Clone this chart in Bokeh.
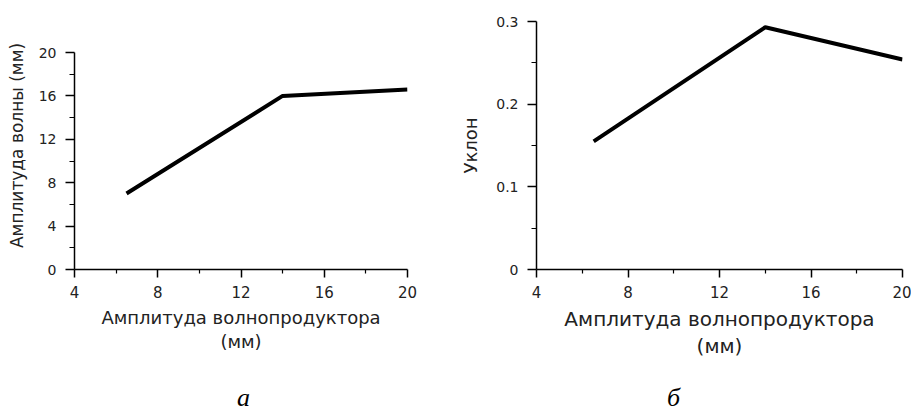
from bokeh.plotting import figure
from bokeh.layouts import row, column
from bokeh.models import Range1d, FixedTicker
from bokeh.core.properties import value
from bokeh.embed import file_html
from bokeh.resources import INLINE

# ---- data ----
amp_x = [6.5, 14, 20]
wave_amp = [7.0, 16.0, 16.6]
slope_x = [6.5, 14, 20]
slope = [0.155, 0.293, 0.254]

x_ticks = [4, 8, 12, 16, 20]
x_minor = [6, 10, 14, 18]
left_y_ticks = [0, 4, 8, 12, 16, 20]
left_y_minor = [2, 6, 10, 14, 18]
right_y_ticks = [0, 0.1, 0.2, 0.3]
right_y_minor = [0.05, 0.15, 0.25]

x_title = "Амплитуда волнопродуктора\n(мм)"
left_y_title = "Амплитуда волны (мм)"
right_y_title = "Уклон"
panel_letters = ["а", "б"]

FONT = "DejaVu Sans"
TXT = "#222222"
TOP_H = 371
BOT_H = 40
W1, W2 = 455, 456


def style(p, yticks, yminor, ysize, xsize):
    p.outline_line_color = None
    p.xgrid.visible = False
    p.ygrid.visible = False
    p.background_fill_color = "white"
    p.border_fill_color = "white"
    p.xaxis.ticker = FixedTicker(ticks=x_ticks, minor_ticks=x_minor)
    p.yaxis.ticker = FixedTicker(ticks=yticks, minor_ticks=yminor)
    for ax in (p.xaxis, p.yaxis):
        ax.axis_line_width = 1.5
        ax.axis_line_color = "black"
        ax.major_tick_line_width = 1.5
        ax.major_tick_line_color = "black"
        ax.minor_tick_line_width = 1.2
        ax.minor_tick_line_color = "black"
        ax.major_tick_in = 0
        ax.minor_tick_in = 0
        ax.major_label_text_font = FONT
        ax.major_label_text_color = TXT
        ax.axis_label_text_font = FONT
        ax.axis_label_text_font_style = "normal"
        ax.axis_label_text_color = TXT
    p.xaxis.major_tick_out = 8
    p.xaxis.minor_tick_out = 4
    p.xaxis.major_label_standoff = 8
    p.xaxis.major_label_text_font_size = "15px"
    p.xaxis.axis_label = x_title
    p.xaxis.axis_label_text_font_size = xsize
    p.xaxis.axis_label_text_line_height = 1.15
    p.xaxis.axis_label_standoff = 6
    p.yaxis.major_tick_out = 9
    p.yaxis.minor_tick_out = 5
    p.yaxis.major_label_standoff = 9
    p.yaxis.major_label_text_font_size = "14px"
    p.yaxis.axis_label_text_font_size = ysize


def letter_panel(width, xr, left, right, x, text):
    q = figure(width=width, height=BOT_H, output_backend="svg", toolbar_location=None,
               x_range=xr, y_range=Range1d(0, BOT_H),
               x_axis_location=None, y_axis_location=None,
               min_border_left=left, min_border_right=right,
               min_border_top=0, min_border_bottom=0)
    q.outline_line_color = None
    q.grid.visible = False
    q.background_fill_color = "white"
    q.border_fill_color = "white"
    q.text(x=[x], y=[14], text=[text], text_align="center", text_baseline="alphabetic",
           text_font=value("Liberation Serif"), text_font_style="italic",
           text_font_size="26px", text_color="black")
    return q


# ---- left panel ----
x1 = Range1d(4, 20)
p1 = figure(width=W1, height=TOP_H, output_backend="svg", toolbar_location=None,
            x_range=x1, y_range=Range1d(0, 22.86),
            min_border_left=74, min_border_right=48,
            min_border_top=21, min_border_bottom=102)
style(p1, left_y_ticks, left_y_minor, "17px", "18px")
p1.yaxis.bounds = (0, 20)
p1.yaxis.axis_label = left_y_title
p1.yaxis.axis_label_standoff = 9
p1.line(amp_x, wave_amp, line_color="black", line_width=4)

# ---- right panel ----
x2 = Range1d(4, 20)
p2 = figure(width=W2, height=TOP_H, output_backend="svg", toolbar_location=None,
            x_range=x2, y_range=Range1d(0, 0.3),
            min_border_left=81, min_border_right=9,
            min_border_top=21, min_border_bottom=102)
style(p2, right_y_ticks, right_y_minor, "18px", "20px")
p2.yaxis.major_label_overrides = {0: "0", 0.1: "0.1", 0.2: "0.2", 0.3: "0.3"}
p2.yaxis.axis_label = right_y_title
p2.yaxis.axis_label_standoff = 12
p2.line(slope_x, slope, line_color="black", line_width=4)

# ---- panel letters ----
q1 = letter_panel(W1, x1, 74, 48, 12.12, panel_letters[0])
q2 = letter_panel(W2, x2, 81, 9, 9.99, panel_letters[1])

layout = column(row(p1, p2, spacing=0), row(q1, q2, spacing=0), spacing=0)
open("out.html", "w").write(file_html(layout, INLINE))
